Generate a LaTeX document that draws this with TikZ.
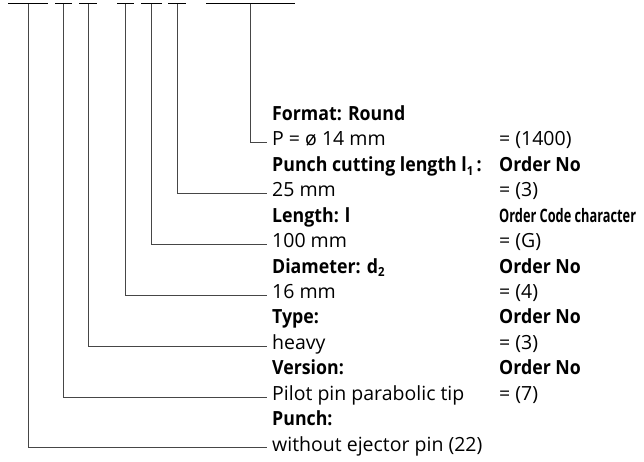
\documentclass[tikz,border=0pt]{standalone}
\usepackage{fontspec}
\setmainfont{Open Sans}[BoldFeatures={FakeStretch=0.91}]
\usepackage{graphicx}
\usepackage{xcolor}
\definecolor{codeline}{RGB}{70,70,70}
\usetikzlibrary{positioning}
\tikzset{
  lbl/.style={anchor=west, inner xsep=5pt, inner ysep=0pt, font=\fontsize{19.5}{23}\selectfont, text height=1.5ex, text depth=0.25ex},
  head/.style={lbl, font=\fontsize{19.5}{23}\selectfont\bfseries},
  bar/.style={black, line width=1pt},
  lead/.style={codeline, line width=0.9pt}
}
\newcommand{\sub}[1]{\raisebox{-0.35ex}{\fontsize{12.5}{14}\selectfont #1}}
\begin{document}
\begin{tikzpicture}[x=1pt, y=-1pt]
  \useasboundingbox (0,0) rectangle (644,461);

  % Code bars along the top
  \draw[bar] (8,3.5) -- (48,3.5);
  \draw[bar] (55,3.5) -- (72,3.5);
  \draw[bar] (79,3.5) -- (97,3.5);
  \draw[bar] (117,3.5) -- (134,3.5);
  \draw[bar] (141,3.5) -- (162,3.5);
  \draw[bar] (168,3.5) -- (186,3.5);
  \draw[bar] (206,3.5) -- (295,3.5);
  \coordinate (punch) at (28,3.5);
  \coordinate (version) at (63.5,3.5);
  \coordinate (type) at (88,3.5);
  \coordinate (diam) at (125.5,3.5);
  \coordinate (length) at (151.5,3.5);
  \coordinate (cutlen) at (177,3.5);
  \coordinate (format) at (250.5,3.5);

  % Left column
  \node[head] (fmtH) at (267,117) {Format: Round};
  \node[lbl] (fmtV) at (267,142.5) {P = ø 14 mm};
  \node[head] (cutH) at (267,168) {Punch cutting length l\sub{1}\,:};
  \node[lbl] (cutV) at (267,193.4) {25 mm};
  \node[head] (lenH) at (267,218.8) {Length: l};
  \node[lbl] (lenV) at (267,244.3) {100 mm};
  \node[head] (diaH) at (267,269.7) {Diameter: d\sub{2}};
  \node[lbl] (diaV) at (267,295.2) {16 mm};
  \node[head] (typH) at (267,320.6) {Type:};
  \node[lbl] (typV) at (267,346.1) {heavy};
  \node[head] (verH) at (267,371.5) {Version:};
  \node[lbl] (verV) at (267,397) {Pilot pin parabolic tip};
  \node[head] (punH) at (267,422.4) {Punch:};
  \node[lbl] (punV) at (267,447.9) {without ejector pin (22)};

  % Right column
  \node[lbl] (fmtC) at (494,142.5) {= (1400)};
  \node[head] (cutO) at (494,168) {Order No};
  \node[lbl] (cutC) at (494,193.4) {= (3)};
  \node[head] (lenO) at (494,218.8) {\scalebox{0.72}[0.95]{Order Code character}};
  \node[lbl] (lenC) at (494,244.3) {= (G)};
  \node[head] (diaO) at (494,269.7) {Order No};
  \node[lbl] (diaC) at (494,295.2) {= (4)};
  \node[head] (typO) at (494,320.6) {Order No};
  \node[lbl] (typC) at (494,346.1) {= (3)};
  \node[head] (verO) at (494,371.5) {Order No};
  \node[lbl] (verC) at (494,397) {= (7)};

  % Leader lines
  \draw[lead] (format) |- (fmtV.west);
  \draw[lead] (cutlen) |- (cutV.west);
  \draw[lead] (length) |- (lenV.west);
  \draw[lead] (diam) |- (diaV.west);
  \draw[lead] (type) |- (typV.west);
  \draw[lead] (version) |- (verV.west);
  \draw[lead] (punch) |- (punV.west);
\end{tikzpicture}
\end{document}
